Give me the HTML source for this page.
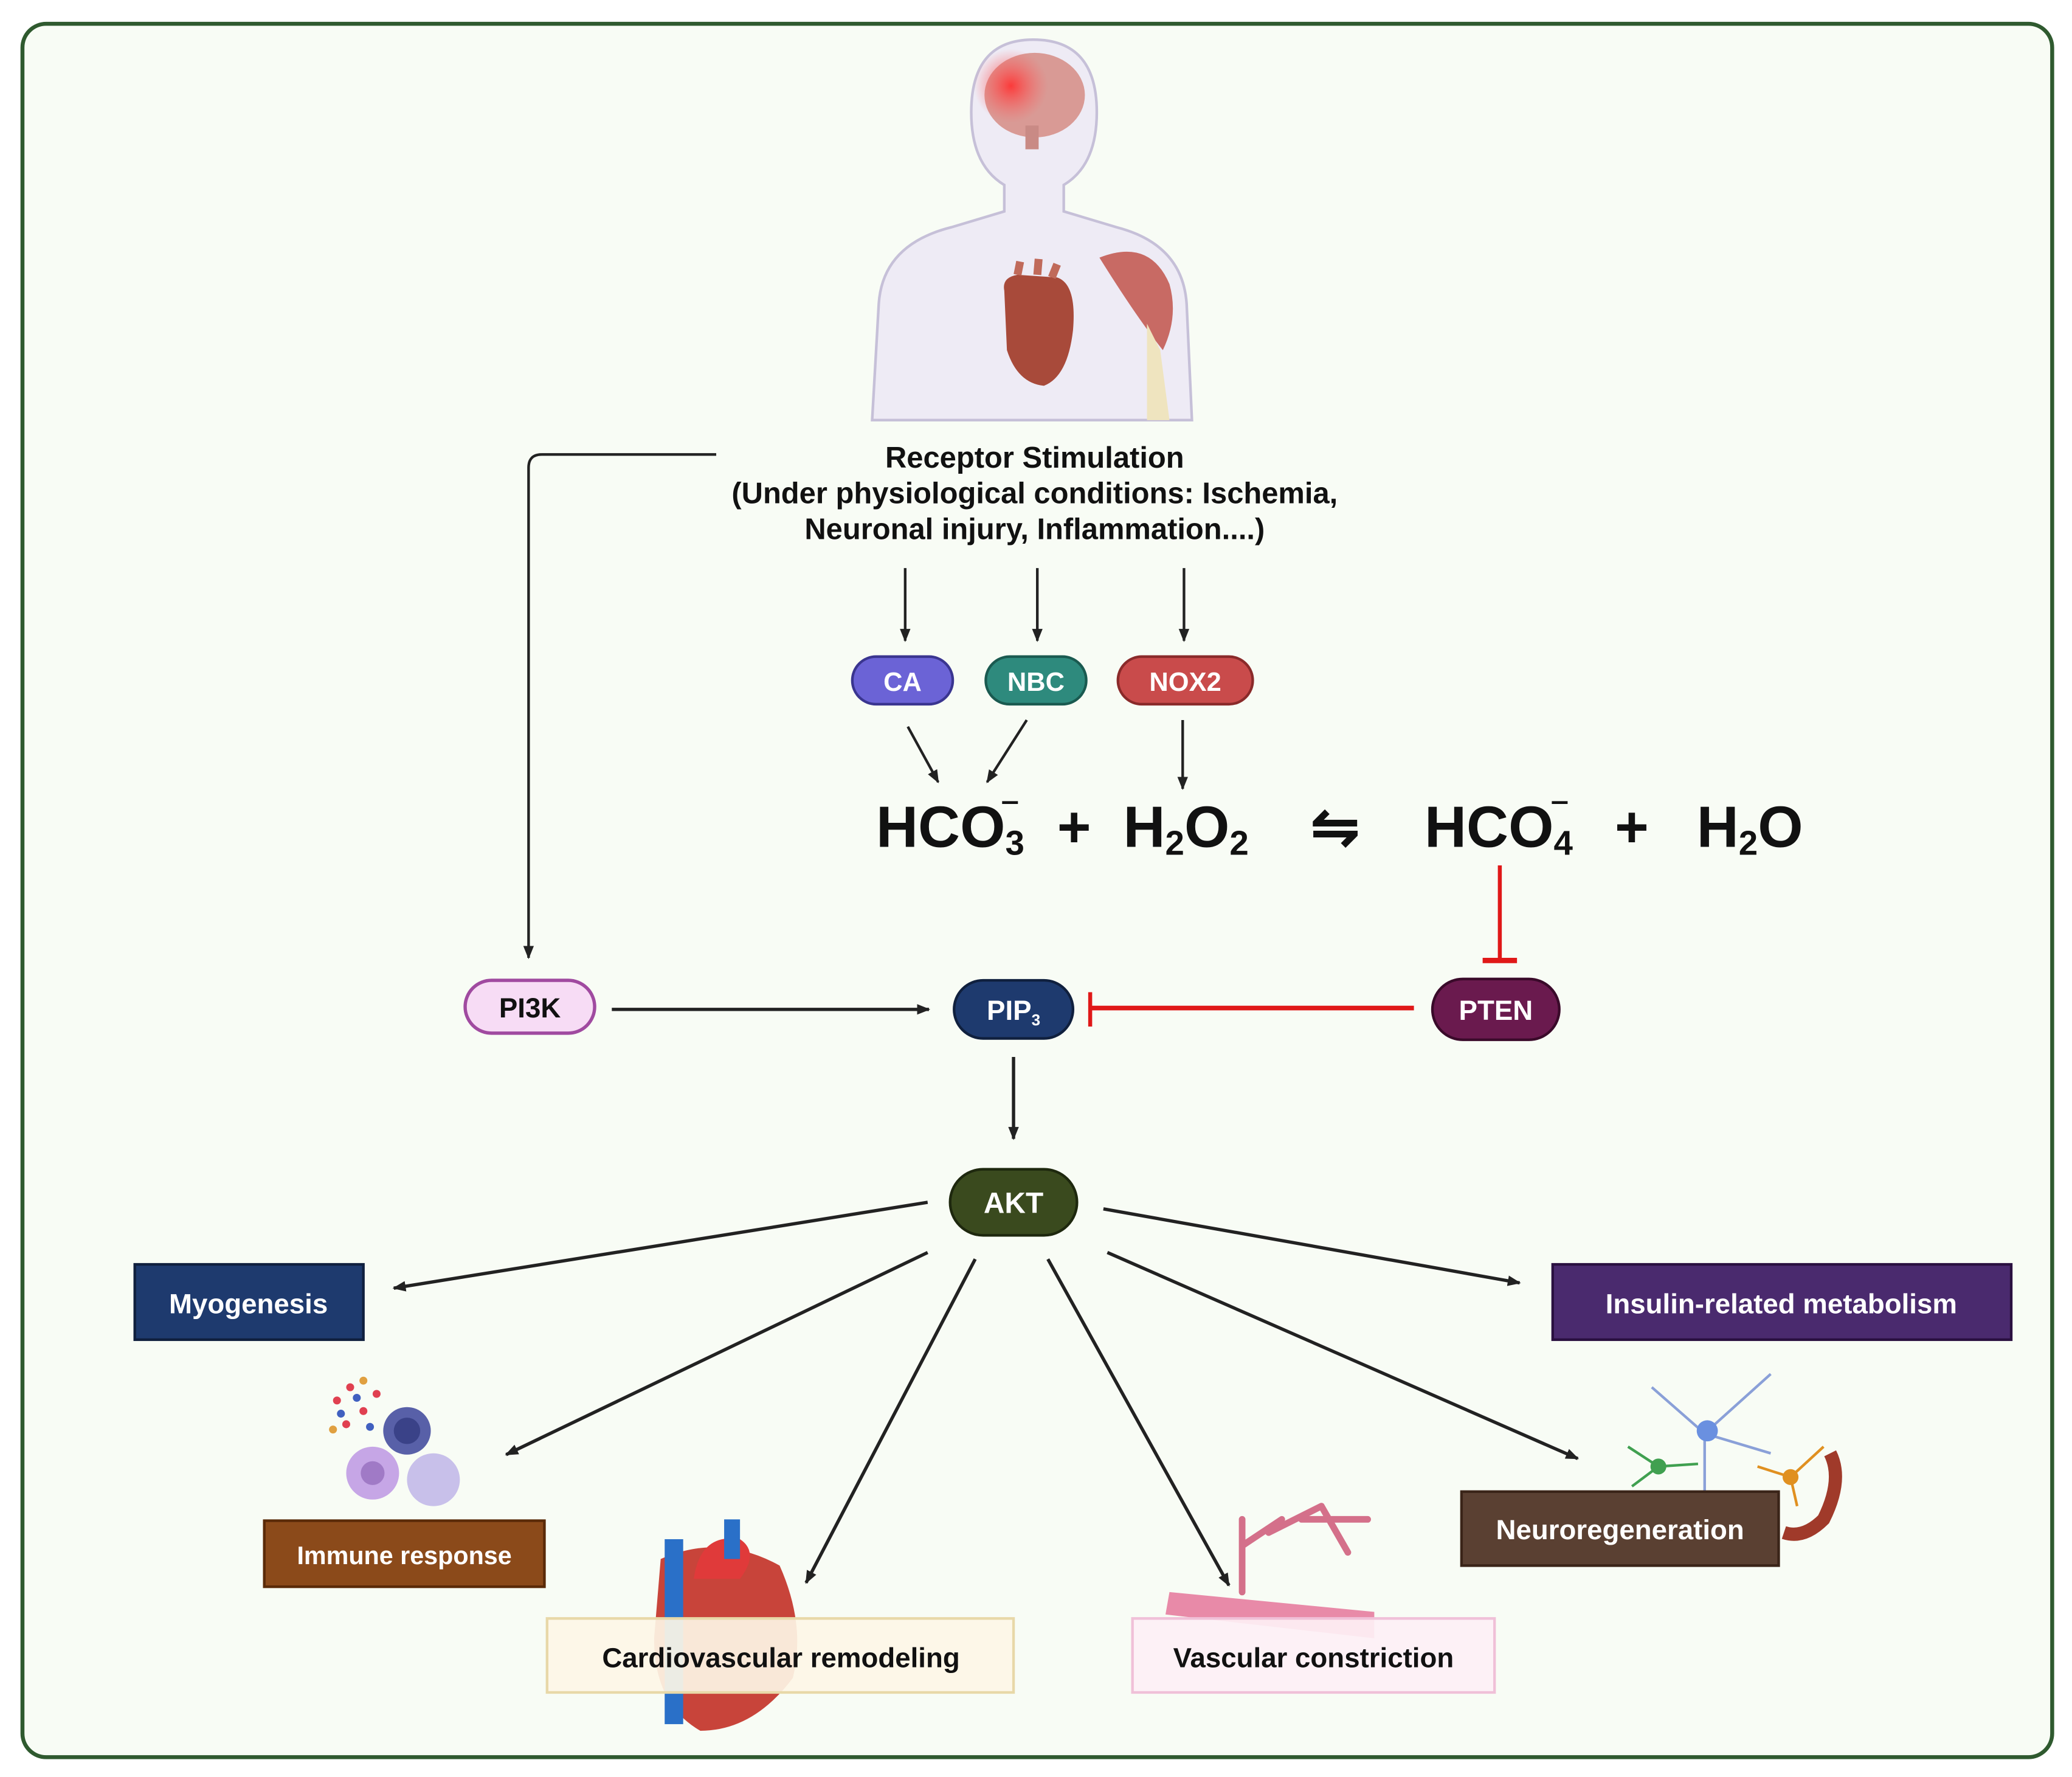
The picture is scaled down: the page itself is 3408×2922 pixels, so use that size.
<!DOCTYPE html>
<html><head><meta charset="utf-8"><style>
html,body{margin:0;padding:0;background:#fff;}
svg{display:block;}
text{font-family:"Liberation Sans",Arial,sans-serif;font-weight:bold;}
</style></head><body>
<svg width="3408" height="2922" viewBox="0 0 1568 1345" preserveAspectRatio="none" xmlns="http://www.w3.org/2000/svg">
<defs>
<marker id="ah" markerWidth="10" markerHeight="10" refX="9" refY="5" orient="auto" markerUnits="userSpaceOnUse">
<path d="M0,1 L10,5 L0,9 Z" fill="#222"/></marker>
<radialGradient id="glow" cx="0.5" cy="0.5" r="0.5"><stop offset="0" stop-color="#ff3030" stop-opacity="0.9"/><stop offset="1" stop-color="#ff6060" stop-opacity="0"/></radialGradient>
</defs>
<rect x="0" y="0" width="1568" height="1345" fill="#ffffff"/>
<rect x="17" y="18" width="1536" height="1312" rx="18" fill="#f8fcf5" stroke="#2f5a2f" stroke-width="3"/>

<!-- human figure -->
<path d="M660,318 L665,230 Q668,185 720,172 L760,160 L760,140 Q735,125 735,85 Q735,30 782,30 Q830,30 830,85 Q830,125 805,140 L805,160 L845,172 Q895,185 898,230 L902,318 Z" fill="#eeebf5" stroke="#c6c0d8" stroke-width="2"/>
<ellipse cx="783" cy="72" rx="38" ry="32" fill="#d99a95"/>
<circle cx="765" cy="65" r="28" fill="url(#glow)"/>
<rect x="776" y="95" width="10" height="18" fill="#c98a85"/>
<path d="M760,220 Q758,210 770,208 L800,210 Q815,215 812,250 Q808,285 790,292 Q770,290 762,265 Z" fill="#a84a3a"/>
<path d="M770,208 L772,198 M785,208 L786,196 M796,210 L800,200" stroke="#c06a5a" stroke-width="6"/>
<path d="M832,195 Q870,180 885,215 Q892,240 880,265 Q860,240 832,195 Z" fill="#c86a64"/>
<path d="M868,245 L878,265 L885,318 L868,318 Z" fill="#efe4bf"/>

<!-- receptor text -->
<text x="783" y="354" font-size="22.5" text-anchor="middle" fill="#111">Receptor Stimulation</text>
<text x="783" y="381" font-size="22.5" text-anchor="middle" fill="#111">(Under physiological conditions: Ischemia,</text>
<text x="783" y="408" font-size="22.5" text-anchor="middle" fill="#111">Neuronal injury, Inflammation....)</text>

<path d="M542,344 L410,344 Q400,344 400,354 L400,725" fill="none" stroke="#222" stroke-width="2" marker-end="url(#ah)"/>
<line x1="685" y1="430" x2="685" y2="485" stroke="#222" stroke-width="2" marker-end="url(#ah)"/>
<line x1="785" y1="430" x2="785" y2="485" stroke="#222" stroke-width="2" marker-end="url(#ah)"/>
<line x1="896" y1="430" x2="896" y2="485" stroke="#222" stroke-width="2" marker-end="url(#ah)"/>

<rect x="645" y="497" width="76" height="36" rx="18" fill="#6b63d6" stroke="#3a3590" stroke-width="2"/>
<text x="683" y="523" font-size="20" text-anchor="middle" fill="#fff">CA</text>
<rect x="746" y="497" width="76" height="36" rx="18" fill="#2e8a7d" stroke="#1a5a50" stroke-width="2"/>
<text x="784" y="523" font-size="20" text-anchor="middle" fill="#fff">NBC</text>
<rect x="846" y="497" width="102" height="36" rx="18" fill="#c94b4b" stroke="#8a2a2a" stroke-width="2"/>
<text x="897" y="523" font-size="20" text-anchor="middle" fill="#fff">NOX2</text>

<line x1="687" y1="550" x2="710" y2="592" stroke="#222" stroke-width="2" marker-end="url(#ah)"/>
<line x1="777" y1="545" x2="747" y2="592" stroke="#222" stroke-width="2" marker-end="url(#ah)"/>
<line x1="895" y1="545" x2="895" y2="597" stroke="#222" stroke-width="2" marker-end="url(#ah)"/>

<!-- equation -->
<g font-size="44" fill="#111">
<text x="663" y="641">HCO<tspan font-size="26" dy="6">3</tspan></text>
<text x="760" y="627" font-size="26">‾</text>
<text x="800" y="641">+</text>
<text x="850" y="641">H<tspan font-size="26" dy="6">2</tspan><tspan dy="-6">O</tspan><tspan font-size="26" dy="6">2</tspan></text>
<text x="992" y="641">⇋</text>
<text x="1078" y="641">HCO<tspan font-size="26" dy="6">4</tspan></text>
<text x="1176" y="627" font-size="26">‾</text>
<text x="1222" y="641">+</text>
<text x="1284" y="641">H<tspan font-size="26" dy="6">2</tspan><tspan dy="-6">O</tspan></text>
</g>

<line x1="1135" y1="655" x2="1135" y2="727" stroke="#e01818" stroke-width="3"/>
<line x1="1122" y1="727" x2="1148" y2="727" stroke="#e01818" stroke-width="4"/>

<rect x="352" y="742" width="98" height="40" rx="20" fill="#f7dcf5" stroke="#a04aa0" stroke-width="2.5"/>
<text x="401" y="770" font-size="21" text-anchor="middle" fill="#111">PI3K</text>
<line x1="463" y1="764" x2="703" y2="764" stroke="#222" stroke-width="2.5" marker-end="url(#ah)"/>

<rect x="722" y="742" width="90" height="44" rx="22" fill="#1e3a6e" stroke="#10203e" stroke-width="2"/>
<text x="767" y="772" font-size="21" text-anchor="middle" fill="#fff">PIP<tspan font-size="12" dy="4">3</tspan></text>

<line x1="1070" y1="763" x2="826" y2="763" stroke="#e01818" stroke-width="3.5"/>
<line x1="825" y1="751" x2="825" y2="777" stroke="#e01818" stroke-width="3"/>

<rect x="1084" y="741" width="96" height="46" rx="23" fill="#6a1a4e" stroke="#3a0a2a" stroke-width="2"/>
<text x="1132" y="772" font-size="21" text-anchor="middle" fill="#fff">PTEN</text>

<line x1="767" y1="800" x2="767" y2="862" stroke="#222" stroke-width="2.5" marker-end="url(#ah)"/>

<rect x="719" y="885" width="96" height="50" rx="25" fill="#3a4a1e" stroke="#1e280e" stroke-width="2"/>
<text x="767" y="918" font-size="22" text-anchor="middle" fill="#fff">AKT</text>

<g stroke="#222" stroke-width="2.5" marker-end="url(#ah)">
<line x1="702" y1="910" x2="298" y2="975"/>
<line x1="702" y1="948" x2="383" y2="1101"/>
<line x1="738" y1="953" x2="610" y2="1198"/>
<line x1="793" y1="953" x2="930" y2="1200"/>
<line x1="838" y1="948" x2="1194" y2="1104"/>
<line x1="835" y1="915" x2="1150" y2="971"/>
</g>

<!-- illustrations -->
<g>
<circle cx="282" cy="1115" r="20" fill="#c6a6e6"/><circle cx="282" cy="1115" r="9" fill="#a07ac6"/>
<circle cx="328" cy="1120" r="20" fill="#c8c0ea"/>
<circle cx="308" cy="1083" r="18" fill="#5860a8"/><circle cx="308" cy="1083" r="10" fill="#3a4288"/>
<g fill="#e04050"><circle cx="255" cy="1060" r="3"/><circle cx="265" cy="1050" r="3"/><circle cx="275" cy="1068" r="3"/><circle cx="262" cy="1078" r="3"/><circle cx="285" cy="1055" r="3"/></g>
<g fill="#4060c0"><circle cx="270" cy="1058" r="3"/><circle cx="258" cy="1070" r="3"/><circle cx="280" cy="1080" r="3"/></g>
<g fill="#e0a040"><circle cx="275" cy="1045" r="3"/><circle cx="252" cy="1082" r="3"/></g>
</g>
<g>
<path d="M500,1180 Q545,1160 590,1185 Q610,1230 600,1270 Q570,1310 530,1310 Q495,1290 495,1240 Z" fill="#c8443a"/>
<rect x="503" y="1165" width="14" height="140" fill="#2a70c8"/>
<path d="M525,1195 Q530,1160 560,1165 Q575,1175 560,1195 Z" fill="#e03a3a"/>
<rect x="548" y="1150" width="12" height="30" fill="#2a70c8"/>
</g>
<g stroke="#d4708a" stroke-width="5" fill="none" stroke-linecap="round">
<path d="M940,1205 L940,1150 M940,1170 L970,1150 M960,1160 L1000,1140 M985,1150 L1035,1150 M1000,1140 L1020,1175"/>
</g>
<path d="M885,1205 L1040,1220 L1040,1240 L882,1222 Z" fill="#e88aa8"/>
<g stroke="#8aa0d8" stroke-width="2" fill="none">
<path d="M1290,1085 L1250,1050 M1290,1085 L1340,1040 M1290,1085 L1290,1130 M1290,1085 L1340,1100"/>
</g>
<circle cx="1292" cy="1083" r="8" fill="#6a90e0"/>
<g stroke="#40a050" stroke-width="2" fill="none"><path d="M1255,1110 L1232,1095 M1255,1110 L1235,1125 M1255,1110 L1285,1108"/></g>
<circle cx="1255" cy="1110" r="6" fill="#40a050"/>
<g stroke="#e09020" stroke-width="2" fill="none"><path d="M1355,1118 L1380,1095 M1355,1118 L1330,1110 M1355,1118 L1360,1140"/></g>
<circle cx="1355" cy="1118" r="6" fill="#e09020"/>
<path d="M1385,1100 Q1395,1120 1380,1150 Q1365,1165 1350,1160" stroke="#a03a2a" stroke-width="10" fill="none"/>

<!-- result boxes -->
<rect x="102" y="957" width="173" height="57" fill="#1e3a6e" stroke="#10203e" stroke-width="2"/>
<text x="188" y="994" font-size="21" text-anchor="middle" fill="#fff">Myogenesis</text>
<rect x="1175" y="957" width="347" height="57" fill="#4a2a6e" stroke="#2a1040" stroke-width="2"/>
<text x="1348" y="994" font-size="21" text-anchor="middle" fill="#fff">Insulin-related metabolism</text>
<rect x="200" y="1151" width="212" height="50" fill="#8b4a1a" stroke="#5a2a08" stroke-width="2"/>
<text x="306" y="1184" font-size="19" text-anchor="middle" fill="#fff">Immune response</text>
<rect x="1106" y="1129" width="240" height="56" fill="#5a4032" stroke="#3a2418" stroke-width="2"/>
<text x="1226" y="1165" font-size="21" text-anchor="middle" fill="#fff">Neuroregeneration</text>
<rect x="414" y="1225" width="353" height="56" fill="#fdf6e6" fill-opacity="0.92" stroke="#e8d8a8" stroke-width="2"/>
<text x="591" y="1262" font-size="21" text-anchor="middle" fill="#111">Cardiovascular remodeling</text>
<rect x="857" y="1225" width="274" height="56" fill="#fdf0f5" fill-opacity="0.92" stroke="#f0c0d8" stroke-width="2"/>
<text x="994" y="1262" font-size="21" text-anchor="middle" fill="#111">Vascular constriction</text>
</svg>
</body></html>
